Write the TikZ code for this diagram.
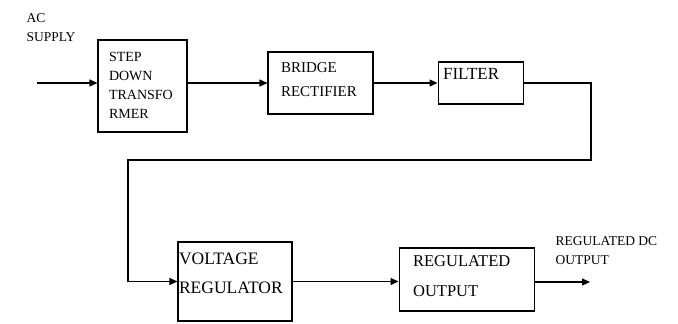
\documentclass[tikz,border=0pt]{standalone}
\usepackage{fontspec}
\setmainfont{Liberation Serif}
\usetikzlibrary{arrows.meta,positioning}

\begin{document}
\begin{tikzpicture}[
  x=1pt, y=1pt,
  >={Triangle[length=8pt,width=7pt]},
  every path/.style={line width=1.1pt},
  blk/.style={draw, line width=1.1pt, align=left, inner ysep=0pt},
  lbl/.style={inner sep=0pt, anchor=north west, align=left,
              font=\fontsize{13.5}{19.5}\selectfont},
]
\useasboundingbox (0,0) rectangle (678,-324);

% --- Top row: transformer, rectifier, filter ---
\node[lbl] (ac) at (26,-13) {AC\\SUPPLY};
\node[blk, minimum width=89pt, minimum height=92pt,
      text width=67pt, inner xsep=11pt, text height=10pt, text depth=59.6pt,
      font=\fontsize{14}{19}\selectfont] (step) at (142.5,-86) {STEP\\DOWN\\TRANSFO\\RMER};
\node[blk, minimum width=105pt, minimum height=62pt,
      text width=79pt, inner xsep=13pt, text height=10pt, text depth=30.2pt,
      font=\fontsize{15}{24}\selectfont] (bridge) at (320.5,-83) {BRIDGE\\RECTIFIER};
\node[blk, right=64pt of bridge, minimum width=85pt, minimum height=42pt,
      text width=75pt, inner xsep=5pt, text height=11.5pt, text depth=19.1pt,
      font=\fontsize{17}{20}\selectfont] (filter) {FILTER};

% --- Bottom row: regulator and output ---
\node[blk, minimum width=114pt, minimum height=79pt,
      text width=112pt, inner xsep=1pt, text height=12pt, text depth=46pt,
      font=\fontsize{17.5}{29}\selectfont] (volt) at (235,-281.5) {VOLTAGE\\REGULATOR};
\node[blk, right=106pt of volt, yshift=2pt, minimum width=135pt, minimum height=63pt,
      text width=107pt, inner xsep=14pt, text height=11pt, text depth=38pt,
      font=\fontsize{16.5}{30}\selectfont] (regout) {REGULATED\\OUTPUT};
\node[lbl] (dcout) at (555,-236) {REGULATED DC\\OUTPUT};

% free ends and turning points of the wiring
\coordinate (acin) at (37,-83);
\coordinate (turn) at (591,-160);
\coordinate (drop) at (128,-160);
\coordinate (dcend) at (590,-282);

\draw[->] (acin) -- (acin -| step.west);
\draw[->] (step.east |- bridge.west) -- (bridge.west);
\draw[->] (bridge.east) -- (filter.west);
\draw[->] (filter.east) -| (turn) -- (drop) |- (volt.west);
\draw[->] (volt.east) -- (regout.west |- volt.east);
\draw[->] (regout.east |- dcend) -- (dcend);
\end{tikzpicture}
\end{document}
